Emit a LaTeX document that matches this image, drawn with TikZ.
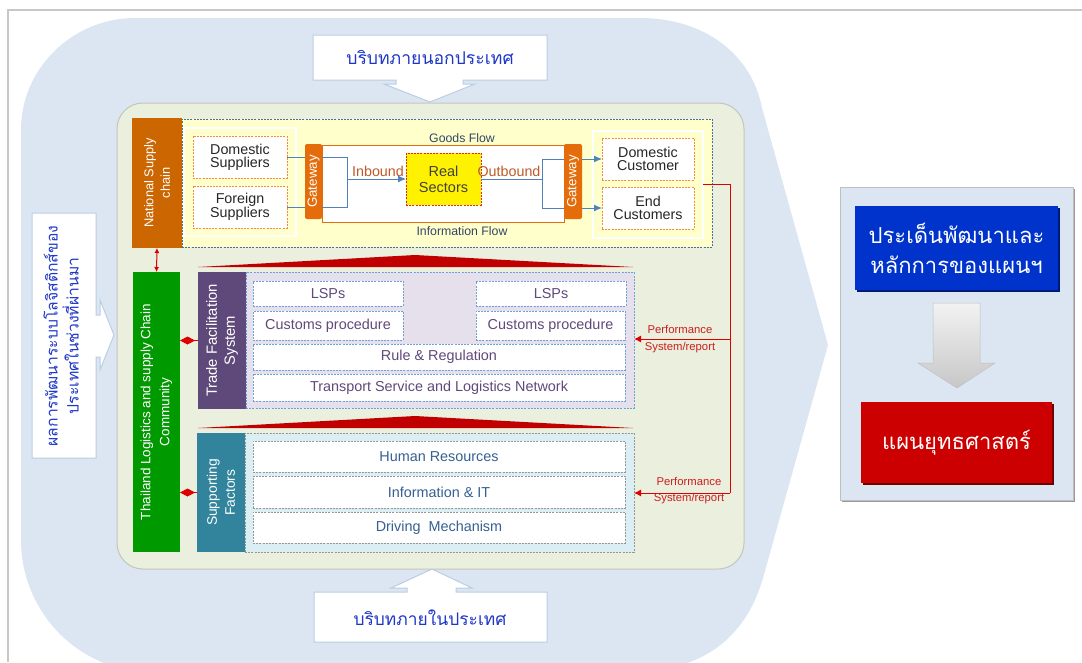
\documentclass[tikz,border=0pt]{standalone}
\usepackage{fontspec}
\setmainfont{Liberation Sans}
\newfontfamily\thaifont[Script=Thai]{Loma}
\usetikzlibrary{arrows.meta,shapes.geometric}
\newcommand{\FS}[2]{\fontsize{#1}{#2}\selectfont}
\newcommand{\DBox}[7]{\node[#1, anchor=north west, minimum width={#5pt-#3pt}, minimum height={#6pt-#4pt}, inner sep=0pt, outer sep=0pt] (#2) at (#3,#4) {#7};}
\definecolor{outerblue}{RGB}{220,230,242}
\definecolor{beige}{RGB}{235,239,222}
\definecolor{beigeline}{RGB}{196,198,186}
\definecolor{callline}{RGB}{185,205,229}
\definecolor{thaiblue}{RGB}{30,55,200}
\definecolor{lyellow}{RGB}{255,255,204}
\definecolor{ydash}{RGB}{80,110,150}
\definecolor{nscorange}{RGB}{204,102,0}
\definecolor{gworange}{RGB}{228,108,10}
\definecolor{odash}{RGB}{240,140,60}
\definecolor{flowblue}{RGB}{79,129,189}
\definecolor{flowtext}{RGB}{50,70,100}
\definecolor{inboundc}{RGB}{190,90,40}
\definecolor{rsdash}{RGB}{220,40,40}
\definecolor{redline}{RGB}{220,0,0}
\definecolor{perfred}{RGB}{205,30,30}
\definecolor{cgreen}{RGB}{0,153,0}
\definecolor{tfspurple}{RGB}{95,73,122}
\definecolor{tfspanelc}{RGB}{229,224,236}
\definecolor{tfsdash}{RGB}{110,160,220}
\definecolor{tfstext}{RGB}{96,73,122}
\definecolor{sfteal}{RGB}{49,132,155}
\definecolor{sfpanelc}{RGB}{219,238,243}
\definecolor{sfdash}{RGB}{150,150,150}
\definecolor{sftext}{RGB}{55,96,146}
\definecolor{roofred}{RGB}{192,0,0}
\definecolor{bboxc}{RGB}{0,51,204}
\definecolor{bboxdark}{RGB}{0,25,120}
\definecolor{rboxc}{RGB}{204,0,0}
\definecolor{rboxdark}{RGB}{110,0,0}
\definecolor{framegray}{RGB}{200,200,200}
\begin{document}
\begin{tikzpicture}[x=1pt,y=-1pt,
  dsh/.style={dash pattern=on 2pt off 1.2pt},
  vlabel/.style={rotate=90, align=center, text=white, inner sep=0pt},
  callout/.style={draw=callline, fill=white, line width=1pt},
  thaib/.style={text=thaiblue, inner sep=0pt, align=center},
  ypanel/.style={draw=ydash, dsh, fill=lyellow, line width=0.9pt},
  nscbox/.style={fill=nscorange},
  wpanel/.style={draw=white, line width=1.2pt},
  obox/.style={draw=odash, dsh, fill=white, line width=0.9pt, align=center, text=black!85, font=\FS{14.3}{13.2}},
  flowbox/.style={draw=gworange, fill=white, line width=1pt},
  gwbox/.style={fill=gworange, rounded corners=2pt},
  rsbox/.style={draw=rsdash, dsh, fill=yellow, line width=0.9pt, align=center, text=black!75, font=\FS{14.5}{16}},
  fline/.style={draw=flowblue, line width=1pt},
  farrow/.style={-{Latex[length=8pt,width=7pt]}},
  redl/.style={draw=redline, line width=1pt},
  rarrow/.style={-{Latex[length=7pt,width=7pt]}},
  flowlab/.style={text=flowtext, font=\FS{12.3}{14}, inner sep=0pt},
  boundlab/.style={text=inboundc, font=\FS{14.3}{16}, inner sep=0pt},
  perflab/.style={text=perfred, font=\FS{11.3}{13}, inner sep=0pt},
  greenbox/.style={fill=cgreen},
  tfsbox/.style={fill=tfspurple},
  tfspan/.style={draw=tfsdash, dsh, fill=tfspanelc, line width=0.9pt},
  tbox/.style={draw=tfsdash, dsh, fill=white, line width=0.9pt, text=tfstext, font=\FS{14.4}{16}},
  sfbox/.style={fill=sfteal},
  sfpan/.style={draw=sfdash, dsh, fill=sfpanelc, line width=0.9pt},
  sbox/.style={draw=sfdash, dsh, fill=white, line width=0.9pt, text=sftext, font=\FS{14.4}{16}},
  rpan/.style={fill=outerblue, draw=black!25, line width=0.5pt},
  bluebox/.style={fill=bboxc, text=white, align=center, font=\thaifont\FS{22}{30}},
  redbox/.style={fill=rboxc, text=white, align=center, font=\thaifont\FS{22}{30}},
  core/.style={draw=beigeline, fill=beige, rounded corners=26pt, line width=1pt}
]
\useasboundingbox (0,0) rectangle (1082,662);
\fill[white] (0,0) rectangle (1082,662);
% outer light-blue arrow shape
\begin{scope}
\clip (0,0) rectangle (1082,662);
\fill[outerblue] (135,18) -- (640,18) .. controls (705,18) and (752,55) .. (762,108)
  -- (828,345) -- (763,578) .. controls (745,640) and (700,672) .. (630,672)
  -- (151,672) .. controls (79,672) and (21,612) .. (21,540)
  -- (21,130) .. controls (21,68) and (73,18) .. (135,18) -- cycle;
\end{scope}
\draw[framegray, line width=1.5pt] (8,662) -- (8,10) -- (1082,10);

% callouts
\draw[callout] (313,35) -- (547,35) -- (547,80) -- (463,80) -- (463,84) -- (475,84) -- (430,102)
  -- (384,84) -- (396,84) -- (396,80) -- (313,80) -- cycle;
\node[thaib, font=\thaifont\FS{17.6}{20}] (extctx) at (430,57) {บริบทภายนอกประเทศ};
\draw[callout] (314,592) -- (407,592) -- (407,588) -- (391,588) -- (432,569) -- (472,588)
  -- (456,588) -- (456,592) -- (547,592) -- (547,642) -- (314,642) -- cycle;
\node[thaib, font=\thaifont\FS{17.4}{20}] (intctx) at (430,618) {บริบทภายในประเทศ};
\draw[callout] (32,213) -- (96,213) -- (96,315) -- (100,315) -- (100,300) -- (114,335)
  -- (100,370) -- (100,357) -- (96,357) -- (96,458) -- (32,458) -- cycle;
\node[thaib, rotate=90, font=\thaifont\FS{15.7}{21}] (pastres) at (61,336) {ผลการพัฒนาระบบโลจิสติกส์ของ\\ประเทศในช่วงที่ผ่านมา};

% core panel
\DBox{core}{corepanel}{117}{103}{744}{569}{}

% national supply chain
\DBox{ypanel}{scpanel}{182}{119}{712}{247}{}
\DBox{nscbox}{nsc}{132}{118}{182}{248}{}
\node[vlabel, font=\FS{12.8}{16.5}] (nsclab) at (nsc.center) {National Supply\\chain};
\DBox{wpanel}{suppanel}{184}{128}{296}{236}{}
\DBox{wpanel}{cuspanel}{593}{131}{703}{238}{}
\DBox{obox}{dsup}{193}{136}{287}{178}{Domestic\\Suppliers}
\DBox{obox}{fsup}{193}{186}{287}{228}{Foreign\\Suppliers}
\DBox{flowbox}{flow}{322}{145}{564}{222}{}
\DBox{gwbox}{gwl}{305}{144}{322}{219}{}
\node[vlabel, font=\FS{13.3}{15}] (gwllab) at (gwl.center) {Gateway};
\DBox{gwbox}{gwr}{564}{144}{582}{219}{}
\node[vlabel, font=\FS{13.3}{15}] (gwrlab) at (gwr.center) {Gateway};
\DBox{rsbox}{real}{406}{153}{481}{205}{Real\\Sectors}
\DBox{obox}{dcus}{602}{138}{694}{180}{Domestic\\Customer}
\DBox{obox}{ecus}{602}{187}{694}{229}{End\\Customers}
\node[flowlab] (goods) at (462,138) {Goods Flow};
\node[flowlab] (info) at (462,231) {Information Flow};
\node[boundlab] (inb) at (378,171) {Inbound};
\node[boundlab] (outb) at (509,171) {Outbound};

% flows
\coordinate (li1) at (347,157);
\coordinate (li2) at (347,207);
\coordinate (limid) at (347,179);
\coordinate (ro1) at (542,159);
\coordinate (ro2) at (542,208);
\coordinate (romid) at (542,179);
\draw[fline] (dsup.east) -- (gwl.west |- dsup.east);
\draw[fline] (fsup.east) -- (gwl.west |- fsup.east);
\draw[fline] (gwl.east |- li1) -- (li1) -- (li2) -- (gwl.east |- li2);
\draw[fline, farrow] (limid) -- (real.west);
\draw[fline] (real.east) -- (romid);
\draw[fline] (gwr.west |- ro1) -- (ro1) -- (ro2) -- (gwr.west |- ro2);
\draw[fline, farrow] (gwr.east |- dcus.west) -- (dcus.west);
\draw[fline, farrow] (gwr.east |- ecus.west) -- (ecus.west);

% community
\DBox{greenbox}{green}{133}{272}{180}{552}{}
\node[vlabel, font=\FS{13.5}{19}] (greenlab) at (green.center) {Thailand Logistics and supply Chain\\Community};

% trade facilitation
\fill[roofred] (198,267) -- (415,255) -- (633,267) -- cycle;
\DBox{tfspan}{tfspanel}{246}{272}{634}{408}{}
\DBox{tfsbox}{tfs}{198}{272}{246}{409}{}
\node[vlabel, font=\FS{14.8}{18}] (tfslab) at (tfs.center) {Trade Facilitation\\System};
\DBox{tbox}{lsp1}{253}{281}{403}{306}{LSPs}
\DBox{tbox}{cus1}{253}{311}{403}{340}{Customs procedure}
\DBox{tbox}{lsp2}{476}{281}{626}{306}{LSPs}
\DBox{tbox}{cus2}{476}{311}{625}{340}{Customs procedure}
\DBox{tbox}{rule}{253}{344}{625}{370}{Rule \& Regulation}
\DBox{tbox}{trans}{253}{374}{625}{401}{Transport Service and Logistics Network}

% supporting factors
\fill[roofred] (198,428) -- (415,416) -- (633,428) -- cycle;
\DBox{sfpan}{sfpanel}{245}{433}{634}{552}{}
\DBox{sfbox}{sf}{197}{433}{245}{552}{}
\node[vlabel, font=\FS{13.8}{18}] (sflab) at (sf.center) {Supporting\\Factors};
\DBox{sbox}{hr}{253}{441}{625}{472}{Human Resources}
\DBox{sbox}{it}{253}{476}{625}{508}{Information \& IT}
\DBox{sbox}{drive}{253}{512}{625}{543}{Driving\ \ Mechanism}

% red links
\draw[redl, {Latex[length=5pt,width=5pt]}-{Latex[length=5pt,width=5pt]}] (nsc.south) -- (green.north);
\draw[redl, -{Diamond[length=15pt,width=8pt]}] (tfs.west) -- (green.east |- tfs.west);
\draw[redl, -{Diamond[length=15pt,width=8pt]}] (sf.west) -- (green.east |- sf.west);
\coordinate (fbtop) at (730,184.5);
\coordinate (fb1) at (730,339);
\coordinate (fb2) at (730,493);
\draw[redl] (cuspanel.east) -- (fbtop) -- (fb2);
\draw[redl, rarrow] (fb1) -- (tfspanel.east |- fb1);
\draw[redl, rarrow] (fb2) -- (sfpanel.east |- fb2);
\node[perflab] (perf1) at (680,329) {Performance};
\node[perflab] (rep1) at (680,348) {System/report};
\node[perflab] (perf2) at (689,481) {Performance};
\node[perflab] (rep2) at (689,499) {System/report};

% right panel
\fill[black!40] (842,189) rectangle (1075,502);
\DBox{rpan}{rightpanel}{840}{187}{1073}{500}{}
\fill[bboxdark] (857,208) rectangle (1060,292);
\DBox{bluebox}{issues}{855}{206}{1058}{290}{ประเด็นพัฒนาและ\\หลักการของแผนฯ}
\shade[top color=black!5, bottom color=black!22, draw=black!25, line width=0.5pt]
  (933,303) -- (980,303) -- (980,363) -- (995,363) -- (957,388) -- (918,363) -- (933,363) -- cycle;
\fill[rboxdark] (863,404) rectangle (1054,485);
\DBox{redbox}{strat}{861}{402}{1052}{483}{แผนยุทธศาสตร์}
\end{tikzpicture}
\end{document}
